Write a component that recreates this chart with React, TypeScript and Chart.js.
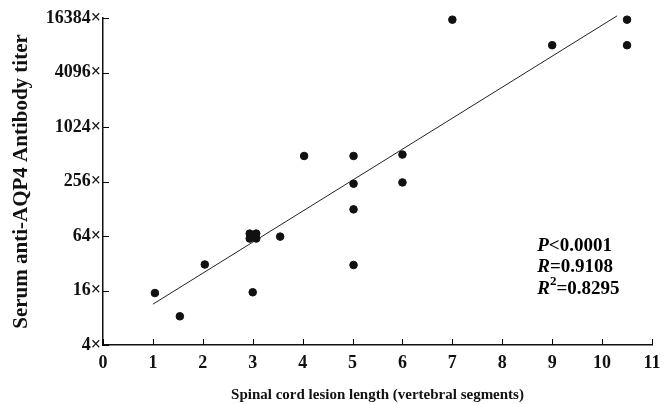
import React, { useEffect, useRef } from "react";
import { Chart, registerables } from "chart.js";

Chart.register(...registerables);

const lesionLength = [1.04, 1.54, 2.04, 3.0, 2.94, 3.07, 2.94, 3.07, 3.55, 4.03, 5.02, 5.02, 5.02, 5.02, 6.0, 6.0, 7.0, 9.0, 10.5, 10.5];
const titer = [15, 8.3, 31, 15.3, 68, 68, 60, 60, 63, 490, 490, 242, 126, 30.6, 508, 250, 15700, 8200, 15700, 8200];
const fitX = [1.0, 10.3];
const fitY = [11.3, 17300];
const yTicks = [4, 16, 64, 256, 1024, 4096, 16384];
const xTicks = [0, 1, 2, 3, 4, 5, 6, 7, 8, 9, 10, 11];
const statsText = [
  { label: "P", rest: "<0.0001", sup: "" },
  { label: "R", rest: "=0.9108", sup: "" },
  { label: "R", rest: "=0.8295", sup: "2" },
];
const statsAnchor = { x: 8.7, y: 50 };

const FONT = "'Liberation Serif', 'Times New Roman', serif";

const inwardTicks = {
  id: "inwardTicks",
  afterDraw(chart: any) {
    const ctx = chart.ctx;
    const xs = chart.scales.x;
    const ys = chart.scales.y;
    const area = chart.chartArea;
    ctx.save();
    ctx.strokeStyle = "#000";
    ctx.lineWidth = 1;
    yTicks.forEach((v) => {
      const py = Math.round(ys.getPixelForValue(v)) + 0.5;
      ctx.beginPath();
      ctx.moveTo(area.left, py);
      ctx.lineTo(area.left + 6, py);
      ctx.stroke();
    });
    xTicks.forEach((v) => {
      const px = Math.round(xs.getPixelForValue(v)) + 0.5;
      ctx.beginPath();
      ctx.moveTo(px, area.bottom);
      ctx.lineTo(px, area.bottom - 6);
      ctx.stroke();
    });
    ctx.restore();
  },
};

const statsPlugin = {
  id: "statsPlugin",
  afterDatasetsDraw(chart: any) {
    const ctx = chart.ctx;
    const x0 = chart.scales.x.getPixelForValue(statsAnchor.x);
    const y0 = chart.scales.y.getPixelForValue(statsAnchor.y);
    ctx.save();
    ctx.fillStyle = "#000";
    ctx.textBaseline = "middle";
    ctx.textAlign = "left";
    statsText.forEach((s, i) => {
      const y = y0 + i * 21.5;
      let x = x0;
      ctx.font = `italic bold 19px ${FONT}`;
      ctx.fillText(s.label, x, y);
      x += ctx.measureText(s.label).width;
      if (s.sup) {
        ctx.font = `bold 13px ${FONT}`;
        ctx.fillText(s.sup, x, y - 7);
        x += ctx.measureText(s.sup).width;
      }
      ctx.font = `bold 19px ${FONT}`;
      ctx.fillText(s.rest, x, y);
    });
    ctx.restore();
  },
};

export default function App() {
  const ref = useRef<HTMLCanvasElement>(null);
  useEffect(() => {
    document.body.style.margin = "0";
    const chart = new Chart(ref.current!, {
      type: "scatter",
      data: {
        datasets: [
          {
            label: "Patients",
            data: lesionLength.map((x, i) => ({ x, y: titer[i] })),
            backgroundColor: "#111",
            borderColor: "#111",
            pointRadius: 3.8,
            pointHoverRadius: 3.8,
            clip: false as any,
          },
          {
            type: "line" as any,
            label: "Fit",
            data: fitX.map((x, i) => ({ x, y: fitY[i] })),
            borderColor: "#222",
            borderWidth: 1,
            pointRadius: 0,
            showLine: true,
            fill: false,
            clip: false as any,
          },
        ],
      },
      plugins: [inwardTicks, statsPlugin],
      options: {
        animation: false,
        responsive: false,
        layout: { padding: { top: 18, right: 18, left: 0, bottom: 0 } },
        plugins: { legend: { display: false }, tooltip: { enabled: false } },
        scales: {
          x: {
            type: "linear",
            min: 0,
            max: 11,
            afterBuildTicks: (s: any) => {
              s.ticks = xTicks.map((v) => ({ value: v }));
            },
            afterFit: (s: any) => {
              s.height = 59;
            },
            ticks: {
              color: "#111",
              font: { family: FONT, size: 18, weight: "bold" },
              padding: 8,
              maxRotation: 0,
              autoSkip: false,
            },
            grid: { display: false, drawTicks: false },
            border: { display: true, color: "#111", width: 1.5 },
            title: {
              display: true,
              text: "Spinal cord lesion length (vertebral segments)",
              color: "#111",
              font: { family: FONT, size: 15, weight: "bold" },
              padding: { top: 0, bottom: 0 },
            },
          },
          y: {
            type: "logarithmic",
            min: 4,
            max: 16384,
            afterBuildTicks: (s: any) => {
              s.ticks = yTicks.map((v) => ({ value: v }));
            },
            afterFit: (s: any) => {
              s.width = 103;
            },
            ticks: {
              color: "#111",
              font: { family: FONT, size: 18, weight: "bold" },
              padding: 2,
              autoSkip: false,
              callback: (v: any) => `${v}×`,
            },
            grid: { display: false, drawTicks: false },
            border: { display: true, color: "#111", width: 1.5 },
            title: {
              display: true,
              text: "Serum anti-AQP4 Antibody titer",
              color: "#111",
              font: { family: FONT, size: 21, weight: "bold" },
              padding: { top: 9, bottom: 0 },
            },
          },
        },
      },
    });
    return () => chart.destroy();
  }, []);
  return (
    <div style={{ width: 670, height: 404 }}>
      <canvas ref={ref} width={670} height={404} />
    </div>
  );
}
